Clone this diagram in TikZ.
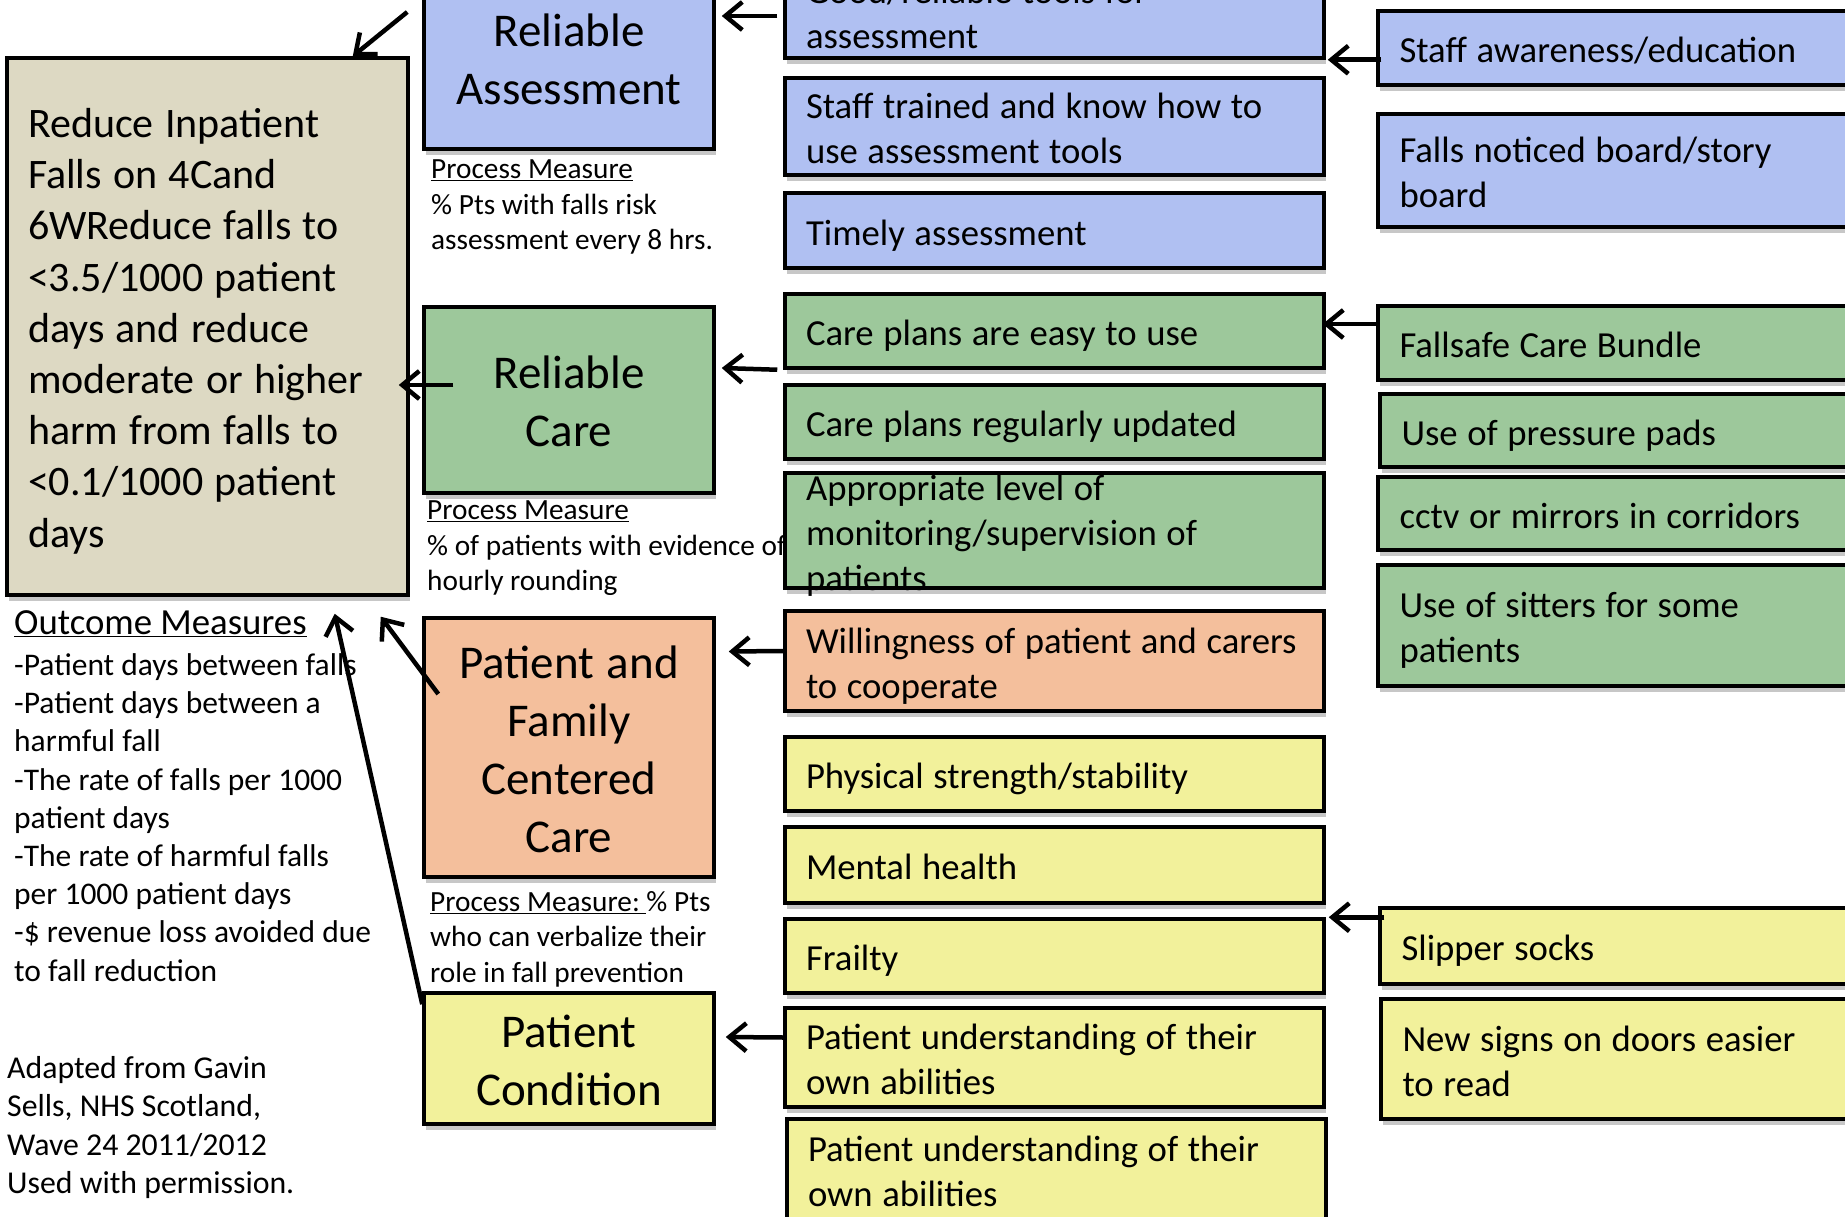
\documentclass[tikz,border=0pt]{standalone}
\usepackage{fontspec}
\setmainfont{Carlito}
\usetikzlibrary{arrows.meta,shadows,calc}
\definecolor{cblue}{RGB}{176,192,242}
\definecolor{cgreen}{RGB}{157,200,155}
\definecolor{corange}{RGB}{244,191,156}
\definecolor{cyellow}{RGB}{242,241,155}
\definecolor{cbeige}{RGB}{221,217,195}
\begin{document}
\begin{tikzpicture}[x=1pt,y=-1pt,
  box/.style={draw=black, line width=3.5pt, rectangle, inner ysep=-15pt,
    drop shadow={shadow xshift=2pt, shadow yshift=-6pt, fill=black!22, opacity=1}},
  strutA/.style={execute at begin node={\spaceskip=0.26em plus 0.05em\relax\xspaceskip=\spaceskip\rule{0pt}{1.0em}\hyphenpenalty=10000},
    execute at end node={\rule[-0.25em]{0pt}{0.25em}}},
  strutB/.style={execute at begin node={\spaceskip=0.262em plus 0.05em\relax\xspaceskip=\spaceskip\rule{0pt}{1.05em}\hyphenpenalty=10000},
    execute at end node={\rule[-0.25em]{0pt}{0.25em}}},
  strutG/.style={execute at begin node={\spaceskip=0.27em plus 0.05em\relax\xspaceskip=\spaceskip\rule{0pt}{1.0em}\hyphenpenalty=10000},
    execute at end node={\rule[-0.25em]{0pt}{0.25em}}},
  pri/.style={box, strutA, text width=250pt, inner xsep=20pt, align=center,
    font=\fontsize{47}{58}\selectfont},
  sec/.style={box, strutB, text width=497pt, inner xsep=21pt, align=left,
    font=\fontsize{36.7}{45}\selectfont},
  chg/.style={box, strutB, text width=479pt, inner xsep=21.5pt, align=left,
    font=\fontsize{36.7}{45}\selectfont},
  txt/.style={inner sep=0pt, align=left, anchor=west},
  arr/.style={line width=4.5pt, -{Straight Barb[length=17pt,width=28pt]}}
]
\path[use as bounding box] (0,0) rectangle (1845,1217);
\clip (0,0) rectangle (1845,1217);
\fill[white] (0,0) rectangle (1845,1217);

% free texts
\node[txt, font=\fontsize{29.3}{35.5}\selectfont] (pm1) at (431,207)
  {\underline{Process Measure}\\\% Pts with falls risk\\assessment every 8 hrs.};
\node[txt, font=\fontsize{29.3}{35.5}\selectfont] (pm2) at (427,548.5)
  {\underline{Process Measure}\\\% of patients with evidence of\\hourly rounding};
\node[txt, font=\fontsize{29.3}{35.5}\selectfont] (pm3) at (430,939)
  {\underline{Process Measure:\ }\% Pts\\who can verbalize their\\role in fall prevention};
\node[txt, font=\fontsize{36.8}{44}\selectfont] (om) at (14,623.5) {\underline{Outcome Measures}};
\node[txt, font=\fontsize{31.5}{38.2}\selectfont] (oml) at (14,817.5)
  {-Patient days between falls\\-Patient days between a\\harmful fall\\-The rate of falls per 1000\\patient days\\-The rate of harmful falls\\per 1000 patient days\\-\$ revenue loss avoided due\\to fall reduction};
\node[txt, font=\fontsize{31.8}{38.5}\selectfont] (adp) at (7,1127.5)
  {Adapted from Gavin\\Sells, NHS Scotland,\\Wave 24 2011/2012\\Used with permission.};

% goal
\node[box, strutG, fill=cbeige, text width=359pt, inner xsep=21pt, align=left,
  minimum height=537pt, font=\fontsize{42}{51.2}\selectfont] (goal) at (207.5,326.5)
  {Reduce Inpatient\\Falls on 4Cand\\6WReduce falls to\\<3.5/1000 patient\\days and reduce\\moderate or higher\\harm from falls to\\<0.1/1000 patient\\days};

% primary drivers
\node[pri, fill=cblue, minimum height=182pt] (ra) at (569,58) {Reliable\\Assessment};
\node[pri, fill=cgreen, minimum height=186pt] (rc) at (569,400) {Reliable\\Care};
\node[pri, fill=corange, minimum height=259pt] (pf) at (569,747.5) {Patient and\\Family\\Centered\\Care};
\node[pri, fill=cyellow, minimum height=131pt] (pc) at (569,1058.5) {Patient\\Condition};

% secondary drivers
\node[sec, fill=cblue, minimum height=93pt] (b1) at (1054.5,11.5) {Good/reliable tools for\\assessment};
\node[sec, fill=cblue, minimum height=97pt] (b2) at (1054.5,126.5) {Staff trained and know how to\\use assessment tools};
\node[sec, fill=cblue, minimum height=75pt] (b3) at (1054.5,230.5) {Timely assessment};
\node[sec, fill=cgreen, minimum height=74pt] (g1) at (1054.5,331) {Care plans are easy to use};
\node[sec, fill=cgreen, minimum height=74pt] (g2) at (1054.5,422) {Care plans regularly updated};
\node[sec, fill=cgreen, minimum height=115pt, inner ysep=-25pt] (g3) at (1054.5,530.5) {Appropriate level of\\monitoring/supervision of\\patients};
\node[sec, fill=corange, minimum height=100pt] (o1) at (1054.5,661) {\mbox{Willingness of patient and carers}\\to cooperate};
\node[sec, fill=cyellow, minimum height=74pt] (y1) at (1054.5,774) {Physical strength/stability};
\node[sec, fill=cyellow, minimum height=76pt] (y2) at (1054.5,865) {Mental health};
\node[sec, fill=cyellow, minimum height=74pt] (y3) at (1054.5,956) {Frailty};
\node[sec, fill=cyellow, minimum height=99pt] (y4) at (1054.5,1057.5) {Patient understanding of their\\own abilities};
\node[sec, fill=cyellow, minimum height=101pt] (y5) at (1056.5,1169.5) {Patient understanding of their\\own abilities};

% change ideas
\node[chg, fill=cblue, minimum height=74pt] (c1) at (1639,48) {Staff awareness/education};
\node[chg, fill=cblue, minimum height=113pt] (c2) at (1639,170.5) {Falls noticed board/story\\board};
\node[chg, fill=cgreen, minimum height=74pt] (c3) at (1639,343) {Fallsafe Care Bundle};
\node[chg, fill=cgreen, minimum height=73pt] (c4) at (1641,430.5) {Use of pressure pads};
\node[chg, fill=cgreen, minimum height=73pt] (c5) at (1639,513.5) {cctv or mirrors in corridors};
\node[chg, fill=cgreen, minimum height=121pt] (c6) at (1639,625.5) {Use of sitters for some\\patients};
\node[chg, fill=cyellow, minimum height=76pt] (c7) at (1641,946) {Slipper socks};
\node[chg, fill=cyellow, minimum height=120pt] (c8) at (1642,1059) {New signs on doors easier\\to read};

% arrows to goal
\draw[arr] ($(ra.west)+(-15,-46)$) -- ($(goal.north east)+(-57,0)$);
\draw[arr] ($(rc.west)+(31,-15)$) -- ($(goal.east)+(-11,58.5)$);
\draw[arr] ($(pf.west)+(16,-53.5)$) -- ($(goal.south east)+(-29,20)$);
\draw[arr] ($(pc.north west)+(0,13)$) -- ($(goal.south east)+(-75,17)$);
% secondary to primary
\draw[arr] ($(b1.west)+(-6,4.5)$) -- ($(ra.east)+(6,-42)$);
\draw[arr] ($(g1.south west)+(-6,0)$) -- ($(rc.east)+(6,-32)$);
\draw[arr] ($(o1.west)+(0,-10)$) -- ($(pf.east)+(13,-96)$);
\draw[arr] ($(y4.west)+(0,-20)$) -- ($(pc.east)+(10,-21.5)$);
% change ideas to secondary
\draw[arr] ($(c1.west |- b1.south east)+(5,0)$) -- ($(b1.south east)+(2,0)$);
\draw[arr] ($(c3.west)+(0,-19)$) -- ($(c3.west -| g1.east)+(-3,-19)$);
\draw[arr] ($(c7.west |- y3.north east)+(6,0)$) -- ($(y3.north east)+(3,0)$);
\end{tikzpicture}
\end{document}
